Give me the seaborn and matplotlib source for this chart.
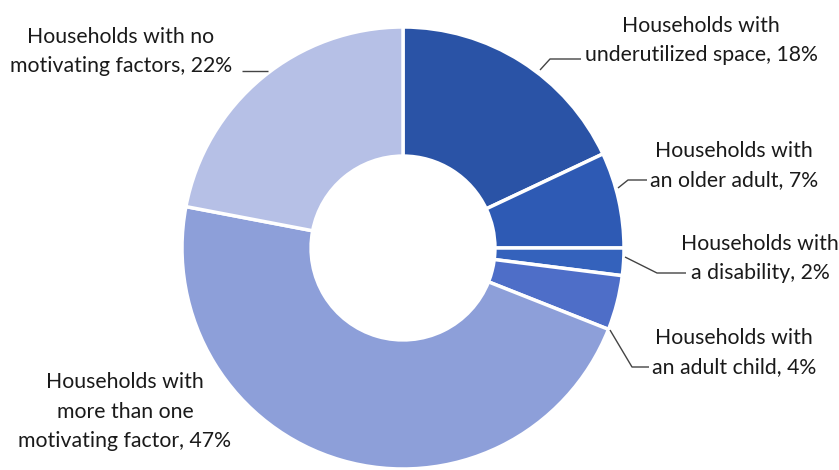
import numpy as np
import matplotlib
matplotlib.use("Agg")
import matplotlib.pyplot as plt
import seaborn as sns

# shares of households by motivating factor (clockwise from top)
labels = [
    "Households with\nunderutilized space, 18%",
    "Households with\nan older adult, 7%",
    "Households with\na disability, 2%",
    "Households with\nan adult child, 4%",
    "Households with\nmore than one\nmotivating factor, 47%",
    "Households with no\nmotivating factors, 22%",
]
shares = [18, 7, 2, 4, 47, 22]
colors = ["#2a53a6", "#2e5ab4", "#3462bc", "#4e6ec8", "#8d9fd9", "#b6c0e6"]

sns.set_theme(style="white")
plt.rcParams["font.family"] = ["Lato", "DejaVu Sans"]

fig = plt.figure(figsize=(8.39, 4.70), dpi=100)
ax = fig.add_axes([0, 0, 1, 1])

wedges, _ = ax.pie(shares, colors=colors, startangle=90, counterclock=False,
                   radius=1.0,
                   wedgeprops=dict(width=0.584, edgecolor="white", linewidth=2.5))

# frame: 221 px per unit radius, centre at (403, 248) px
px = 221.0
ax.set_xlim(-403 / px, (839 - 403) / px)
ax.set_ylim(-(470 - 248) / px, 248 / px)
ax.set_aspect("equal")
ax.axis("off")

def p(x, y):
    return ((x - 403) / px, (248 - y) / px)

# label text: centre x and baseline of last line (pixels)
label_pos = [(701, 61), (734, 186), (760, 279), (734, 373), (125, 447), (121, 72)]
# leader lines in pixels
leaders = [
    [(540, 70), (550, 59), (581, 59)],
    [(618, 188), (628, 180), (647, 180)],
    [(625, 257), (657, 273), (686, 273)],
    [(610, 330), (632, 367), (649, 367)],
    None,
    [(268, 71), (242, 71)],
]

for lab, (lx, ly), ld in zip(labels, label_pos, leaders):
    tx, ty = p(lx, ly)
    ax.text(tx, ty, lab, ha="center", va="baseline", fontsize=15.3,
            color="#1a1a1a", linespacing=1.58, multialignment="center")
    if ld is not None:
        xs, ys = zip(*[p(a, b) for a, b in ld])
        ax.plot(xs, ys, color="#444444", lw=1.0, solid_capstyle="butt")

fig.savefig("out.png", dpi=100, facecolor="white")
